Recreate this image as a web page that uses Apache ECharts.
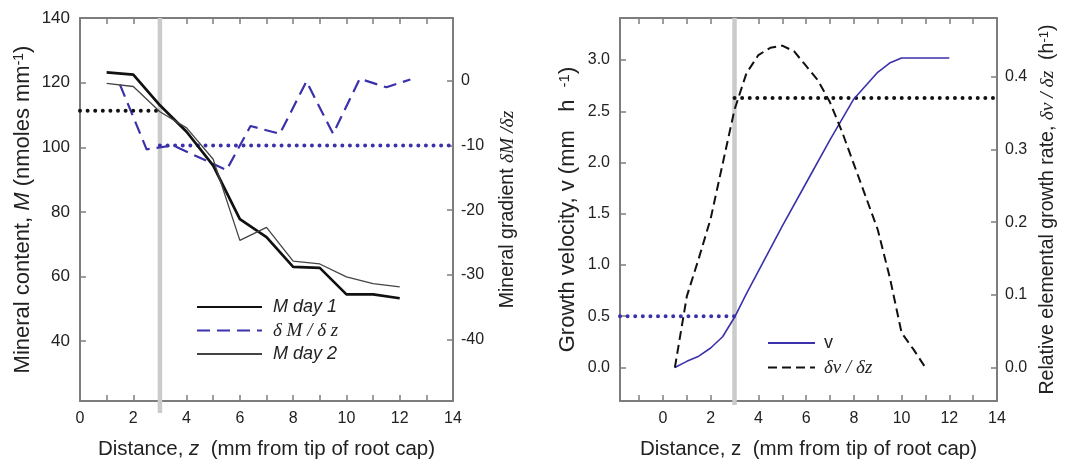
<!DOCTYPE html>
<html>
<head>
<meta charset="utf-8">
<script src="https://cdn.jsdelivr.net/npm/echarts@6/dist/echarts.min.js"></script>
<style>
  html, body { margin: 0; padding: 0; background: #fff; }
  #chart { width: 1073px; height: 465px; }
</style>
</head>
<body>
<div id="chart"></div>
<script>
// Mineral content along the root (left panel)
const zDays = [1, 2, 3, 4, 5, 6, 7, 8, 9, 10, 11, 12];
const mDay1 = [123.2, 122.5, 113.0, 104.8, 94.3, 77.8, 72.2, 63.0, 62.7, 54.5, 54.5, 53.3];
const mDay2 = [119.8, 118.8, 111.0, 106.0, 96.3, 71.2, 75.2, 64.8, 63.9, 59.9, 57.8, 56.8];

// Mineral gradient dM/dz (right axis of left panel)
const zGrad = [1.5, 2.5, 3.5, 4.5, 5.5, 6.4, 7.5, 8.5, 9.5, 10.5, 11.5, 12.4];
const dMdz = [-0.6, -10.6, -10.0, -11.9, -13.8, -7.0, -8.2, -0.1, -8.2, 0.3, -1.0, 0.2];

// Growth velocity v (right panel)
const zVel = [0.5, 1, 1.5, 2, 2.5, 3, 3.5, 4, 5, 6, 7, 8, 9, 9.5, 10, 11, 12];
const vel = [0, 0.06, 0.11, 0.19, 0.30, 0.49, 0.72, 0.94, 1.38, 1.80, 2.22, 2.62, 2.88, 2.97, 3.02, 3.02, 3.02];

// Relative elemental growth rate dv/dz (right axis of right panel)
const zRate = [0.5, 1, 1.5, 2, 2.5, 3, 3.5, 4, 4.5, 5, 5.5, 6, 6.5, 7, 7.5, 8, 8.5, 9, 9.5, 10, 10.5, 11];
const rate = [0, 0.098, 0.15, 0.205, 0.28, 0.355, 0.405, 0.43, 0.44, 0.443, 0.435, 0.415, 0.395, 0.365, 0.325, 0.28, 0.235, 0.19, 0.125, 0.048, 0.025, 0];

// Reference levels
const tipZone = 3;            // boundary of the root-cap zone (mm)
const mPlateau = 111.3;       // mean M inside the tip zone
const gradLevel = -10;        // mean gradient beyond the tip zone
const velTip = 0.5;           // velocity at the zone boundary
const ratePlateau = 0.371;    // mean growth rate beyond the zone boundary

// Tick labels
const xTicksLeft = [0, 1, 2, 3, 4, 5, 6, 7, 8, 9, 10, 11, 12, 13, 14];
const xLabelsEven = [0, 2, 4, 6, 8, 10, 12, 14];
const xTicksRight = [-1, 0, 1, 2, 3, 4, 5, 6, 7, 8, 9, 10, 11, 12, 13, 14];
const mTicks = [40, 60, 80, 100, 120, 140];
const gradTicks = [-40, -30, -20, -10, 0];
const vTicks = [0, 0.5, 1, 1.5, 2, 2.5, 3];
const rateTicks = [0, 0.1, 0.2, 0.3, 0.4];

const FONT = 'Liberation Sans';
const SERIF = 'Liberation Serif';
const BLUE = '#3b31ab';
const AXIS = '#7d7d7d';
const TEXT = '#222';
const GRAY_BAR = '#cbcbcb';

const zip = (xs, ys) => xs.map((x, i) => [x, ys[i]]);

function axisBase(extra) {
  return Object.assign({
    type: 'value',
    scale: false,
    splitLine: { show: false },
    axisLine: { show: true, onZero: false, lineStyle: { color: AXIS, width: 2 } },
    axisTick: { show: true, inside: true, length: 6, lineStyle: { color: AXIS, width: 1.5 } },
    axisLabel: { color: TEXT, fontFamily: FONT, fontSize: 16, margin: 8 },
    nameTextStyle: { color: TEXT, fontFamily: FONT, fontSize: 19 }
  }, extra);
}

const tick = (values) => ({ show: true, inside: true, length: 6, lineStyle: { color: AXIS, width: 1.5 }, customValues: values });
const supStyle = (size) => ({ fontFamily: FONT, fontSize: size, color: TEXT, verticalAlign: 'top', lineHeight: size + 2, padding: [0, 0, 9, 0] });
const italic = (size) => ({ fontFamily: FONT, fontStyle: 'italic', fontSize: size, color: TEXT });
const greek = (size) => ({ fontFamily: SERIF, fontStyle: 'italic', fontSize: size, color: TEXT });

const dotted = (color) => ({ color: color, width: 4, type: [0, 7.6], cap: 'round' });

const option = {
  animation: false,
  backgroundColor: '#fff',
  grid: [
    { left: 80, top: 18, width: 373, height: 385 },
    { left: 620, top: 18, width: 377, height: 385 }
  ],
  xAxis: [
    axisBase({
      gridIndex: 0, position: 'bottom', min: 0, max: 14,
      axisTick: tick(xTicksLeft),
      axisLabel: { color: TEXT, fontFamily: FONT, fontSize: 16, margin: 10, customValues: xLabelsEven },
      name: 'Distance, {i|z}  (mm from tip of root cap)',
      nameLocation: 'middle', nameGap: 38,
      nameTextStyle: { color: TEXT, fontFamily: FONT, fontSize: 20.5, rich: { i: italic(20.5) } }
    }),
    axisBase({
      gridIndex: 0, position: 'top', min: 0, max: 14,
      axisTick: tick(xTicksLeft),
      axisLabel: { show: false }
    }),
    axisBase({
      gridIndex: 1, position: 'bottom', min: -1.8, max: 14,
      axisTick: tick(xTicksRight),
      axisLabel: { color: TEXT, fontFamily: FONT, fontSize: 16, margin: 10, customValues: xLabelsEven },
      name: 'Distance, z  (mm from tip of root cap)',
      nameLocation: 'middle', nameGap: 38,
      nameTextStyle: { color: TEXT, fontFamily: FONT, fontSize: 20.5 }
    }),
    axisBase({
      gridIndex: 1, position: 'top', min: -1.8, max: 14,
      axisTick: tick(xTicksRight),
      axisLabel: { show: false }
    })
  ],
  yAxis: [
    axisBase({
      gridIndex: 0, position: 'left', min: 21.5, max: 140,
      axisTick: tick(mTicks),
      axisLabel: { color: TEXT, fontFamily: FONT, fontSize: 17, margin: 10, customValues: mTicks },
      name: 'Mineral content, {i|M} (nmoles mm{s|-1})',
      nameLocation: 'middle', nameGap: 46, nameRotate: 90,
      nameTextStyle: { color: TEXT, fontFamily: FONT, fontSize: 22, rich: { i: italic(22), s: supStyle(14) } }
    }),
    axisBase({
      gridIndex: 0, position: 'right', min: -49.5, max: 9.7,
      axisTick: tick(gradTicks),
      axisLabel: { color: TEXT, fontFamily: FONT, fontSize: 16, margin: 8, customValues: gradTicks },
      name: 'Mineral gradient {g|δM /δz}',
      nameLocation: 'middle', nameGap: 45, nameRotate: 90,
      nameTextStyle: { color: TEXT, fontFamily: FONT, fontSize: 19.5, rich: { g: greek(19.5) } }
    }),
    axisBase({
      gridIndex: 1, position: 'left', min: -0.327, max: 3.41,
      axisTick: tick(vTicks),
      axisLabel: { color: TEXT, fontFamily: FONT, fontSize: 16, margin: 10, customValues: vTicks, formatter: v => v.toFixed(1) },
      name: 'Growth velocity, v (mm   h  {s|-1})',
      nameLocation: 'middle', nameGap: 41, nameRotate: 90,
      nameTextStyle: { color: TEXT, fontFamily: FONT, fontSize: 22, rich: { s: supStyle(15) } }
    }),
    axisBase({
      gridIndex: 1, position: 'right', min: -0.046, max: 0.481,
      axisTick: tick(rateTicks),
      axisLabel: { color: TEXT, fontFamily: FONT, fontSize: 16, margin: 8, customValues: rateTicks, formatter: v => v.toFixed(1) },
      name: 'Relative elemental growth rate, {g|δv / δz}  (h{s|-1})',
      nameLocation: 'middle', nameGap: 41, nameRotate: 90,
      nameTextStyle: { color: TEXT, fontFamily: FONT, fontSize: 19.5, rich: { g: greek(19.5), s: supStyle(13) } }
    })
  ],
  legend: [
    {
      data: ['M day 1', 'δ M / δ z', 'M day 2'],
      orient: 'vertical', left: 191, top: 293,
      itemWidth: 65, itemHeight: 14, itemGap: 5,
      selectedMode: false,
      itemStyle: { opacity: 0, borderWidth: 0 },
      formatter: n => (n.charAt(0) === 'δ' ? '{g|' + n + '}' : n),
      textStyle: {
        color: TEXT, fontFamily: FONT, fontStyle: 'italic', fontSize: 18, padding: [0, 0, 0, 6],
        rich: { g: greek(19) }
      }
    },
    {
      data: ['v', 'δv / δz'],
      orient: 'vertical', left: 762, top: 329,
      itemWidth: 47, itemHeight: 14, itemGap: 6,
      selectedMode: false,
      itemStyle: { opacity: 0, borderWidth: 0 },
      formatter: n => (n.charAt(0) === 'δ' ? '{g|' + n + '}' : n),
      textStyle: {
        color: TEXT, fontFamily: FONT, fontSize: 18, padding: [0, 0, 0, 4],
        rich: { g: greek(19) }
      }
    }
  ],
  series: [
    // boundary of the tip zone, left panel
    {
      type: 'line', xAxisIndex: 0, yAxisIndex: 0, silent: true, clip: false, z: 1,
      symbol: 'none', data: [[tipZone, 140], [tipZone, 17.8]],
      lineStyle: { color: GRAY_BAR, width: 4.5 }
    },
    {
      name: 'M day 1', type: 'line', xAxisIndex: 0, yAxisIndex: 0, z: 4,
      symbol: 'none', data: zip(zDays, mDay1),
      lineStyle: { color: '#111', width: 2.7 }, itemStyle: { color: '#111' }
    },
    {
      name: 'δ M / δ z', type: 'line', xAxisIndex: 0, yAxisIndex: 1, z: 3,
      symbol: 'none', data: zip(zGrad, dMdz),
      lineStyle: { color: BLUE, width: 2.2, type: [13, 7] }, itemStyle: { color: BLUE }
    },
    {
      name: 'M day 2', type: 'line', xAxisIndex: 0, yAxisIndex: 0, z: 4,
      symbol: 'none', data: zip(zDays, mDay2),
      lineStyle: { color: '#444', width: 1.3 }, itemStyle: { color: '#444' }
    },
    {
      type: 'line', xAxisIndex: 0, yAxisIndex: 0, silent: true, z: 3,
      symbol: 'none', data: [[0, mPlateau], [tipZone, mPlateau]],
      lineStyle: dotted('#111')
    },
    {
      type: 'line', xAxisIndex: 0, yAxisIndex: 1, silent: true, z: 3,
      symbol: 'none', data: [[tipZone, gradLevel], [14, gradLevel]],
      lineStyle: dotted(BLUE)
    },
    // boundary of the tip zone, right panel
    {
      type: 'line', xAxisIndex: 2, yAxisIndex: 2, silent: true, clip: false, z: 1,
      symbol: 'none', data: [[tipZone, 3.41], [tipZone, -0.366]],
      lineStyle: { color: GRAY_BAR, width: 4.5 }
    },
    {
      name: 'v', type: 'line', xAxisIndex: 2, yAxisIndex: 2, z: 4,
      symbol: 'none', data: zip(zVel, vel),
      lineStyle: { color: BLUE, width: 1.6 }, itemStyle: { color: BLUE }
    },
    {
      name: 'δv / δz', type: 'line', xAxisIndex: 2, yAxisIndex: 3, z: 4,
      symbol: 'none', data: zip(zRate, rate),
      lineStyle: { color: '#111', width: 2, type: [9, 5] }, itemStyle: { color: '#111' }
    },
    {
      type: 'line', xAxisIndex: 2, yAxisIndex: 2, silent: true, z: 3,
      symbol: 'none', data: [[-1.8, velTip], [tipZone, velTip]],
      lineStyle: dotted(BLUE)
    },
    {
      type: 'line', xAxisIndex: 2, yAxisIndex: 3, silent: true, z: 3,
      symbol: 'none', data: [[tipZone, ratePlateau], [14, ratePlateau]],
      lineStyle: dotted('#111')
    }
  ]
};

const chart = echarts.init(document.getElementById('chart'), null, { renderer: 'canvas' });
chart.setOption(option);
</script>
</body>
</html>
